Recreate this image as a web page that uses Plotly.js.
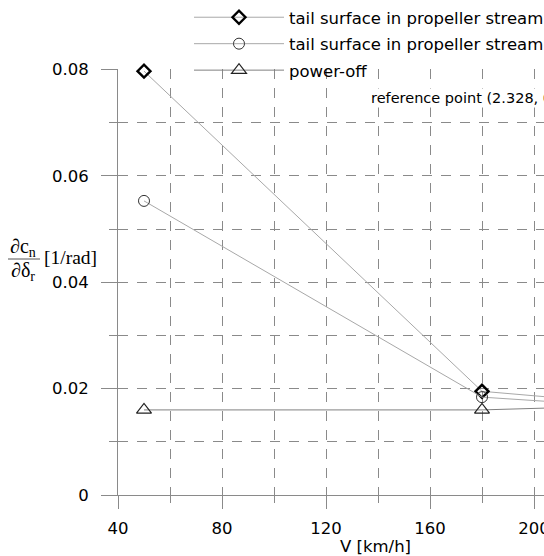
<!DOCTYPE html>
<html>
<head>
<meta charset="utf-8">
<script src="https://cdn.plot.ly/plotly-3.0.1.min.js"></script>
<style>
html,body{margin:0;padding:0;overflow:hidden;background:#fff;width:544px;height:556px;}
#chart{width:660px;height:556px;}
</style>
</head>
<body>
<div id="chart"></div>
<script>
// Data
const speeds = [50, 180, 230];
const prop1 = [0.0797, 0.0195, 0.0174];   // tail surface in propeller stream (diamonds)
const prop2 = [0.0553, 0.0184, 0.0168];   // tail surface in propeller stream (circles)
const powerOff = [0.0160, 0.0160, 0.0167]; // power-off (triangles)
const seriesNames = [
  'tail surface in propeller stream',
  'tail surface in propeller stream',
  'power-off'
];
const xTicks = [40, 80, 120, 160, 200, 240];
const yTicks = [0, 0.02, 0.04, 0.06, 0.08];

const W = 660, H = 556, L = 118, T = 69, B = 61, R = 22;
const pw = W - L - R, ph = H - T - B;
const px = v => (v - L) / pw;
const py = v => (H - B - v) / ph;

const SANS = 'DejaVu Sans, Verdana, sans-serif';
const SERIF = 'Liberation Serif, DejaVu Serif, serif';

const traces = [
  {x: speeds, y: prop1, name: seriesNames[0], mode: 'lines+markers', cliponaxis: false,
   line: {color: '#a8a8a8', width: 1},
   marker: {symbol: 'diamond-open', size: 10, color: '#000', line: {width: 2.4, color: '#000'}},
   legendgroup: 'a'},
  {x: speeds, y: prop2, name: seriesNames[1], mode: 'lines+markers', cliponaxis: false,
   line: {color: '#a8a8a8', width: 1},
   marker: {symbol: 'circle-open', size: 11, color: '#333', line: {width: 1, color: '#333'}},
   legendgroup: 'b'},
  {x: speeds, y: powerOff, name: seriesNames[2], mode: 'lines+markers', cliponaxis: false,
   line: {color: '#808080', width: 1},
   marker: {symbol: 'triangle-up-open', size: 13, color: '#222', line: {width: 1.2, color: '#222'}},
   legendgroup: 'c'}
];

const axisCommon = {
  showline: true, linecolor: '#8a8a8a', linewidth: 1,
  ticks: 'outside', tickcolor: '#8a8a8a', tickwidth: 1,
  showgrid: true, gridcolor: '#8a8a8a', gridwidth: 1, griddash: '10px,9px',
  zeroline: false,
  tickfont: {family: SANS, size: 16.5, color: '#000'}
};

const layout = {
  width: W, height: H,
  margin: {l: L, r: R, t: T, b: B, pad: 0, autoexpand: false},
  paper_bgcolor: '#fff', plot_bgcolor: '#fff',
  showlegend: true,
  legend: {
    x: px(189), xanchor: 'left', y: py(0), yanchor: 'top',
    bgcolor: 'rgba(255,255,255,0)', borderwidth: 0,
    font: {family: SANS, size: 16.5, color: '#000'},
    traceorder: 'grouped', tracegroupgap: 2, itemwidth: 90
  },
  xaxis: Object.assign({}, axisCommon, {
    range: [40, 240], tickvals: xTicks, ticklen: 13, ticklabelstandoff: 5,
    minor: {dtick: 20, ticks: 'outside', ticklen: 7, tickcolor: '#8a8a8a',
            showgrid: true, gridcolor: '#8a8a8a', griddash: '10px,9px', gridwidth: 1}
  }),
  yaxis: Object.assign({}, axisCommon, {
    range: [0, 0.0801], tickvals: yTicks, ticklen: 16, ticklabelstandoff: 9,
    minor: {dtick: 0.01, ticks: 'outside', ticklen: 8, tickcolor: '#8a8a8a',
            showgrid: true, gridcolor: '#8a8a8a', griddash: '10px,9px', gridwidth: 1}
  }),
  shapes: [
    {type: 'line', xref: 'paper', yref: 'paper', x0: px(8), x1: px(40), y0: py(259), y1: py(259),
     line: {color: '#555', width: 1}}
  ],
  annotations: [
    {xref: 'paper', yref: 'paper', x: px(338), y: py(546), text: 'V [km/h]', showarrow: false,
     xanchor: 'left', yanchor: 'middle',
     font: {family: SANS, size: 16.5, color: '#000'}},
    {xref: 'paper', yref: 'paper', x: px(23), y: py(247), text: '∂c<sub>n</sub>', showarrow: false,
     xanchor: 'center', yanchor: 'middle',
     font: {family: SERIF, size: 20, color: '#000'}},
    {xref: 'paper', yref: 'paper', x: px(23), y: py(271), text: '∂δ<sub>r</sub>', showarrow: false,
     xanchor: 'center', yanchor: 'middle',
     font: {family: SERIF, size: 20, color: '#000'}},
    {xref: 'paper', yref: 'paper', x: px(42), y: py(257), text: '[1/rad]', showarrow: false,
     xanchor: 'left', yanchor: 'middle',
     font: {family: SERIF, size: 19.5, color: '#000'}},
    {xref: 'paper', yref: 'paper', x: px(369), y: py(98), text: 'reference point (2.328, 0.25)', showarrow: false,
     xanchor: 'left', yanchor: 'middle', bgcolor: '#fff',
     font: {family: SANS, size: 14.5, color: '#000'}}
  ]
};

Plotly.newPlot('chart', traces, layout, {displayModeBar: false, staticPlot: true});
</script>
</body>
</html>
